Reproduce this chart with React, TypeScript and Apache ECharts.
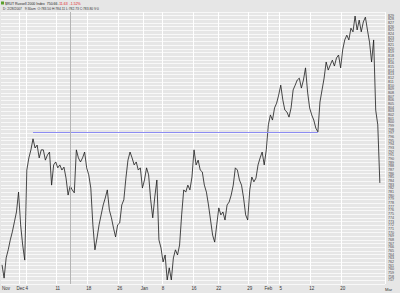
import React, { useEffect, useRef } from "react";
import * as echarts from "echarts";

const tradingDays = [
  "11/28", "11/29", "11/30",
  "12/1", "12/4", "12/5", "12/6", "12/7", "12/8", "12/11", "12/12", "12/13", "12/14", "12/15",
  "12/18", "12/19", "12/20", "12/21", "12/22", "12/26", "12/27", "12/28", "12/29",
  "1/3", "1/4", "1/5", "1/8", "1/9", "1/10", "1/11", "1/12", "1/16", "1/17", "1/18", "1/19",
  "1/22", "1/23", "1/24", "1/25", "1/26", "1/29", "1/30", "1/31",
  "2/1", "2/2", "2/5", "2/6", "2/7", "2/8", "2/9", "2/12", "2/13", "2/14", "2/15", "2/16",
  "2/20", "2/21", "2/22", "2/23", "2/26", "2/27", "2/28",
];
const sessionSlots = ["09:30", "11:40", "13:50"];

const prices = [
  761.2, 757.6, 763.1, 765.3, 768.0, 770.2, 772.9, 775.6, 781.0, 772.1,
  766.6, 762.5, 787.0, 790.3, 792.5, 795.5, 793.0, 793.8, 790.3, 792.5,
  792.5, 789.7, 791.1, 791.9, 782.9, 788.4, 789.2, 787.6, 788.4, 787.0,
  787.8, 784.8, 780.2, 782.7, 781.6, 780.8, 792.5, 790.3, 789.2, 790.3,
  791.9, 787.6, 785.7, 782.1, 772.1, 765.3, 768.5, 772.1, 774.8, 777.5,
  779.4, 781.6, 776.1, 774.0, 771.2, 768.8, 772.1, 772.6, 777.5, 778.9,
  784.8, 789.7, 791.9, 790.3, 788.4, 789.2, 787.0, 787.6, 782.1, 784.3,
  787.6, 785.7, 778.9, 774.0, 779.7, 784.3, 768.0, 765.8, 762.0, 763.9,
  757.1, 760.4, 757.1, 763.1, 765.3, 763.9, 766.6, 774.8, 781.6, 781.0,
  782.9, 781.6, 785.1, 792.5, 788.4, 789.7, 787.0, 786.5, 782.9, 781.0,
  777.5, 773.4, 769.3, 767.4, 772.1, 776.7, 774.8, 775.6, 773.4, 777.5,
  778.3, 780.2, 782.9, 787.6, 787.0, 784.3, 782.9, 779.4, 774.8, 773.4,
  781.6, 785.1, 783.8, 784.8, 788.4, 790.3, 791.9, 788.4, 792.5, 799.3,
  802.0, 800.6, 803.9, 805.2, 807.4, 810.1, 806.1, 803.3, 802.8, 801.4,
  803.9, 808.8, 810.1, 811.5, 812.0, 809.3, 811.5, 814.8, 808.2, 803.9,
  802.0, 800.6, 798.4, 797.4, 805.5, 808.8, 812.0, 816.4, 814.2, 815.6,
  816.9, 815.3, 817.5, 818.3, 814.8, 819.7, 822.4, 823.7, 822.4, 825.6,
  824.6, 828.9, 825.1, 827.8, 824.6, 827.3, 828.6, 825.1, 821.8, 816.4,
  822.4, 803.3, 799.3, 783.5,
];

const tickDays = ["11/28", "12/1", "12/4", "12/11", "12/18", "12/26", "1/3", "1/8", "1/16", "1/22", "1/29", "2/1", "2/5", "2/12", "2/20"];
const tickTexts = ["Nov", "Dec", "4", "11", "18", "26", "Jan", "8", "16", "22", "29", "Feb", "5", "12", "20"];

const yMin = 756;
const yMax = 830;
const resistanceLevel = 797.4;
const resistanceStart = "12/5 09:30";
const resistanceEnd = "2/13 09:30";
const markerBar = "12/13 09:30";

const titleMain = "$RUT Russell 2000 Index  750.66";
const titleChange = "-11.63  -1.52%";
const titleSub = "D: 2/28/2007   9:30am  O:783.50 H:784.11 L:782.73 C:783.80 V:0";

export default function App() {
  const ref = useRef<HTMLDivElement>(null);

  useEffect(() => {
    if (!ref.current) return;
    document.body.style.margin = "0";
    const chart = echarts.init(ref.current, null, { renderer: "svg" });

    const categories: string[] = [];
    tradingDays.forEach((d) => sessionSlots.forEach((s) => categories.push(d + " " + s)));
    const tickMap: Record<number, string> = {};
    tickDays.forEach((d, k) => {
      tickMap[tradingDays.indexOf(d) * sessionSlots.length] = tickTexts[k];
    });

    const font = "Liberation Sans";

    chart.setOption({
      animation: false,
      backgroundColor: "#e6e6e6",
      textStyle: { fontFamily: font },
      grid: { left: 1, right: 15, top: 12, bottom: 9, containLabel: false, outerBoundsMode: "none" },
      xAxis: {
        type: "category",
        data: categories,
        boundaryGap: true,
        axisLine: { show: false },
        axisTick: { show: false },
        axisLabel: {
          interval: (i: number) => tickMap[i] !== undefined,
          formatter: (_v: string, i: number) => tickMap[i] ?? "",
          fontSize: 4.5,
          color: "#333",
          margin: 2,
          fontFamily: font,
          alignMinLabel: "left",
        },
        splitLine: {
          show: true,
          interval: (i: number) => tickMap[i] !== undefined && i > 0,
          lineStyle: { color: "#ffffff", width: 1 },
        },
      },
      yAxis: {
        type: "value",
        position: "right",
        min: yMin,
        max: yMax,
        interval: 1,
        axisLine: { show: false },
        axisTick: { show: false },
        axisLabel: { fontSize: 3.6, color: "#444", margin: 3, fontFamily: font },
        splitLine: { show: true, lineStyle: { color: "#ffffff", width: 0.7 } },
      },
      series: [
        {
          type: "line",
          data: prices,
          symbol: "none",
          lineStyle: { color: "#1a1a1a", width: 0.8 },
          markLine: {
            silent: true,
            symbol: "none",
            label: { show: false },
            data: [
              [
                { coord: [resistanceStart, resistanceLevel], lineStyle: { color: "#8c8cf2", width: 1, type: "solid" } },
                { coord: [resistanceEnd, resistanceLevel] },
              ],
              { xAxis: markerBar, lineStyle: { color: "#b4b4b4", width: 1, type: "solid" } },
            ],
          },
        },
      ],
      graphic: [
        { type: "rect", left: 1, top: 1.5, shape: { width: 3, height: 3 }, style: { fill: "#5aa02c" } },
        { type: "text", left: 5, top: 1.5, style: { text: titleMain, fontSize: 3.5, fill: "#222", fontFamily: font } },
        { type: "text", left: 58, top: 1.5, style: { text: titleChange, fontSize: 3.5, fill: "#e02020", fontFamily: font } },
        { type: "text", left: 3, top: 7, style: { text: titleSub, fontSize: 3.3, fill: "#333", fontFamily: font } },
        { type: "text", left: 385, top: 287, style: { text: "Mar", fontSize: 4.2, fill: "#333", fontFamily: font } },
      ],
    });

    return () => chart.dispose();
  }, []);

  return <div ref={ref} style={{ width: 400, height: 293 }} />;
}
